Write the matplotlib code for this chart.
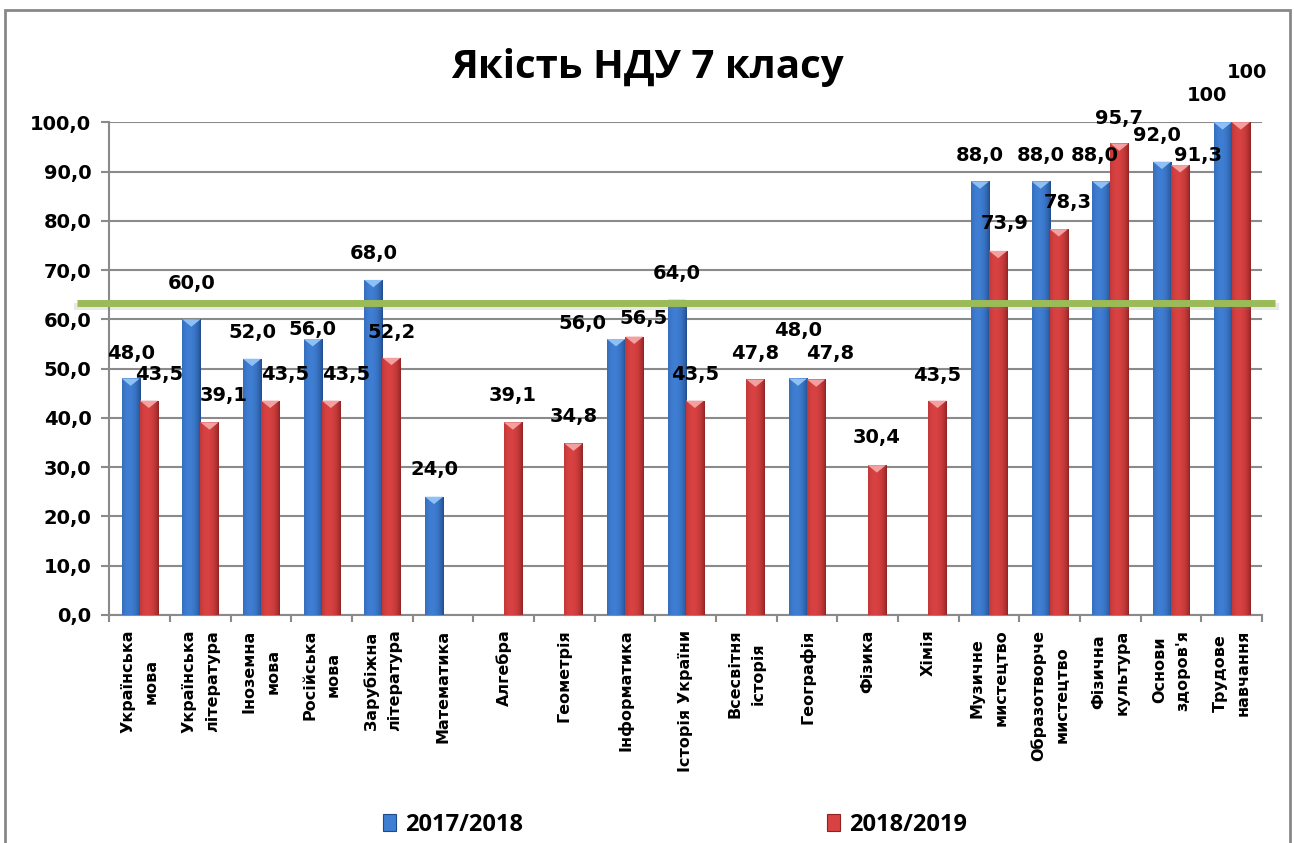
import numpy as np
import matplotlib
matplotlib.use("Agg")
import matplotlib.pyplot as plt
from matplotlib.colors import to_rgb
from matplotlib.patches import Patch, Polygon, Rectangle
from matplotlib.ticker import FixedLocator

subjects = [
    "Українська\nмова", "Українська\nлітература", "Іноземна\nмова",
    "Російська\nмова", "Зарубіжна\nлітература", "Математика", "Алгебра",
    "Геометрія", "Інформатика", "Історія України", "Всесвітня\nісторія",
    "Географія", "Фізика", "Хімія", "Музичне\nмистецтво",
    "Образотворче\nмистецтво", "Фізична\nкультура", "Основи\nздоров'я",
    "Трудове\nнавчання",
]
y2018 = [48.0, 60.0, 52.0, 56.0, 68.0, 24.0, None, None, 56.0, 64.0,
         None, 48.0, None, None, 88.0, 88.0, 88.0, 92.0, 100]
y2019 = [43.5, 39.1, 43.5, 43.5, 52.2, None, 39.1, 34.8, 56.5, 43.5,
         47.8, 47.8, 30.4, 43.5, 73.9, 78.3, 95.7, 91.3, 100]
series = ["2017/2018", "2018/2019"]
threshold = 63.3

# where Excel put each data label: (dx in px, dy above the bar top in value units)
shift_2018 = [(0, 5.0), (0, 7.3), (0, 5.4), (0, 2.0), (0, 5.3), (0, 5.5),
              (0, 0), (0, 0), (-34, 3.2), (0, 5.3), (0, 0), (0, 9.8),
              (0, 0), (0, 0), (0, 5.2), (0, 5.2), (-7, 5.2), (-5, 5.3),
              (-16, 5.4)]
shift_2019 = [(10, 5.3), (14, 5.4), (15, 5.3), (15, 5.3), (0, 5.2), (0, 0),
              (0, 5.5), (0, 5.4), (9, 3.7), (0, 5.4), (0, 5.3), (14, 5.3),
              (0, 5.6), (0, 5.2), (7, 5.6), (9, 5.4), (0, 5.0), (18, 1.9),
              (6, 10.0)]


def fmt(v):
    return "100" if v == 100 else f"{v:.1f}".replace(".", ",")


def cylinder(ax, bar, dark, light, cap):
    # horizontal shading so the bars look round like the Excel ones
    x0, y0 = bar.get_x(), bar.get_y()
    w, h = bar.get_width(), bar.get_height()
    t = np.linspace(0, 1, 64)
    f = np.clip(1 - ((t - 0.38) / 0.62) ** 2, 0, 1) ** 0.8
    d, l = np.array(to_rgb(dark)), np.array(to_rgb(light))
    grad = (d + (l - d) * f[:, None])[None, :, :]
    im = ax.imshow(grad, extent=[x0, x0 + w, y0, y0 + h], aspect="auto",
                   interpolation="bilinear", zorder=3)
    im.set_clip_path(bar)
    ax.add_patch(Polygon([(x0, y0 + h), (x0 + w, y0 + h),
                          (x0 + w / 2, y0 + h - 1.5)], closed=True,
                         facecolor=cap, edgecolor="none", zorder=3.5))


fig = plt.figure(figsize=(12.94, 8.43), dpi=100)
ax = fig.add_axes([0.0846, 0.2705, 0.8907, 0.5845])

x = np.arange(len(subjects))
w = 0.3
styles = [("#2e63b0", "#1f4a8a", "#3f7ed2", "#8fc0f5"),
          ("#c83636", "#8e2222", "#d84242", "#f4a0a0")]
for i, (vals, shifts) in enumerate(zip([y2018, y2019], [shift_2018, shift_2019])):
    base, dark, light, cap = styles[i]
    xs = x + (i - 0.5) * w
    v = np.array([np.nan if a is None else a for a in vals])
    bars = ax.bar(xs, np.nan_to_num(v), width=w, color=base, edgecolor="none",
                  zorder=2.9)
    for bar, xi, vi, (dx, dy) in zip(bars, xs, v, shifts):
        if np.isnan(vi):
            continue
        cylinder(ax, bar, dark, light, cap)
        ax.annotate(fmt(vi), (xi, vi + dy), xytext=(dx * 0.72, 0),
                    textcoords="offset points", ha="center", va="center",
                    fontsize=14, fontweight="bold", annotation_clip=False,
                    zorder=5)

# green threshold line running past the plot area
trans = matplotlib.transforms.blended_transform_factory(ax.transAxes, ax.transData)
ax.plot([-0.0282, 1.0113], [threshold - 0.5] * 2, color="#808080", lw=5,
        alpha=0.18, transform=trans, clip_on=False, zorder=3.9)
ax.plot([-0.0282, 1.0113], [threshold, threshold], color="#9bbb59", lw=5,
        transform=trans, clip_on=False, zorder=4, solid_capstyle="butt")

ax.set_xlim(-0.5, len(subjects) - 0.5)
ax.set_ylim(0, 100)
yt = np.arange(0, 101, 10)
ax.set_yticks(yt)
ax.set_yticklabels([f"{t:.1f}".replace(".", ",") for t in yt],
                   fontsize=14, fontweight="bold")
ax.yaxis.grid(True, color="#8a8a8a", lw=1.5, zorder=0)
ax.set_axisbelow(True)

ax.set_xticks(x)
ax.set_xticklabels(subjects, rotation=90, fontsize=11.5, fontweight="bold",
                   ha="center", va="top", multialignment="center",
                   linespacing=1.7)
ax.tick_params(axis="x", length=0, pad=10.5)
ax.xaxis.set_minor_locator(FixedLocator(np.arange(-0.5, len(subjects), 1.0)))
ax.tick_params(axis="x", which="minor", length=5, color="#8a8a8a", width=1.5)
ax.tick_params(axis="y", length=6, color="#8a8a8a", width=1.5, pad=7)

for s in ["top", "right"]:
    ax.spines[s].set_visible(False)
for s in ["left", "bottom"]:
    ax.spines[s].set_color("#8a8a8a")
    ax.spines[s].set_linewidth(1.5)

fig.text(0.5004, 0.9071, "Якість НДУ 7 класу", ha="center", va="baseline",
         fontsize=29, fontweight="bold", family=["Open Sans", "DejaVu Sans"])

for i, xpos in enumerate([383 / 1294, 827 / 1294]):
    handle = Patch(facecolor=styles[i][2], edgecolor=styles[i][1], lw=0.8)
    fig.legend([handle], [series[i]], loc="center left",
               bbox_to_anchor=(xpos, 0.0214), frameon=False, borderpad=0,
               borderaxespad=0, handlelength=0.55, handleheight=0.75,
               handletextpad=0.4,
               prop={"size": 17, "weight": "bold",
                     "family": ["Open Sans", "DejaVu Sans"]})

fig.patches.append(Rectangle((0.004, -0.01), 0.993, 0.998, fill=False,
                             edgecolor="#888888", lw=2,
                             transform=fig.transFigure, figure=fig))

fig.savefig("out.png", dpi=100)
